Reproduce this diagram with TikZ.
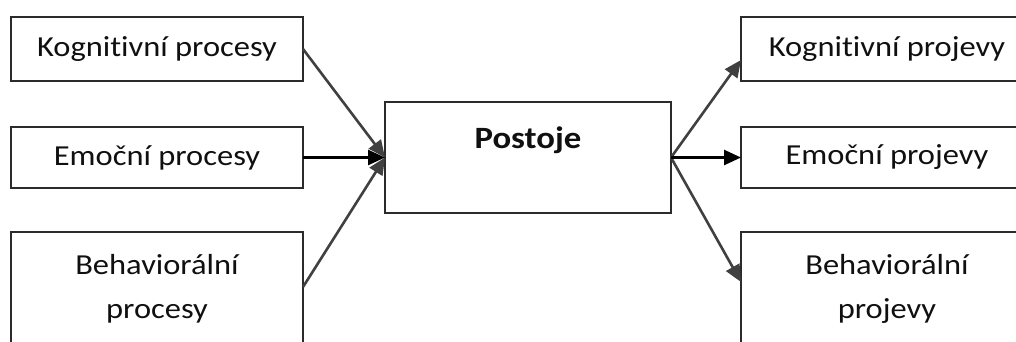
\documentclass[tikz,border=0pt]{standalone}
\usepackage{fontspec}
\newfontfamily\boxfont{Carlito}[FakeStretch=1.12,Ligatures=NoCommon]
\usetikzlibrary{arrows.meta}
\definecolor{edge}{HTML}{2b2b2b}
\definecolor{diag}{HTML}{404040}
\definecolor{txt}{HTML}{101010}
\begin{document}
\begin{tikzpicture}[x=1pt,y=-1pt,
  box/.style={draw=edge, line width=1.5pt, inner sep=0pt, outer sep=0pt,
    minimum width=292pt, align=center, text=txt,
    font=\boxfont\fontsize{29}{44}\selectfont},
  arr/.style={line width=2.6pt, -{Triangle[length=17pt,width=15pt]}},
  dline/.style={arr, draw=diag, fill=diag},
  hline/.style={arr, draw=black, fill=black}]
\useasboundingbox (0,0) rectangle (1016,342);
\clip (0,0) rectangle (1016,342);
% left boxes
\node[box, minimum height=64pt] (lk) at (157,49) {Kognitivní procesy};
\node[box, minimum height=61pt] (le) at (157,157.5) {Emoční procesy};
\node[box, minimum height=114pt] (lb) at (157,289) {Behaviorální\\procesy};
% centre
\node[draw=edge, line width=1.5pt, inner sep=0pt, outer sep=0pt,
  minimum width=286pt, minimum height=111pt] (post) at (528,157.5) {};
\node[anchor=base, inner sep=0pt, text=txt,
  font=\boxfont\fontsize{31}{36}\selectfont\bfseries] (postlab) at (528,148) {Postoje};
% right boxes
\node[box, minimum height=64pt] (rk) at (887,49) {Kognitivní projevy};
\node[box, minimum height=61pt] (re) at (887,157.5) {Emoční projevy};
\node[box, minimum height=114pt] (rb) at (887,289) {Behaviorální\\projevy};
\coordinate (rkin) at ([yshift=-11pt]rk.west);
\coordinate (rbin) at ([yshift=7pt]rb.west);
\coordinate (lbout) at ([yshift=2pt]lb.east);
% arrows
\draw[dline] (lk.east) -- (post.west);
\draw[dline] (lbout) -- (post.west);
\draw[hline] (le.east) -- (post.west);
\draw[dline] (post.east) -- (rkin);
\draw[dline] (post.east) -- (rbin);
\draw[hline] (post.east) -- (re.west);
\end{tikzpicture}
\end{document}
